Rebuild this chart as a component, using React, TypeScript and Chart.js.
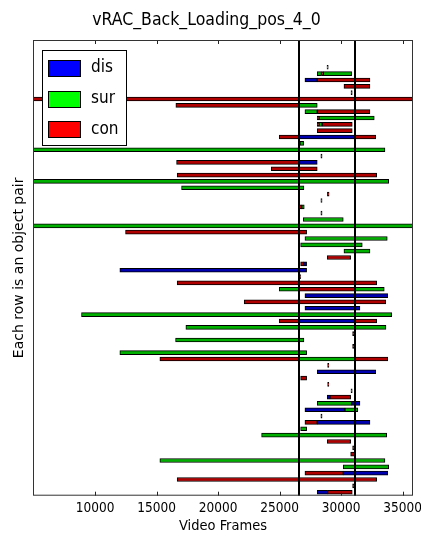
import React, { useEffect, useRef } from "react";
import { Chart, registerables } from "chart.js";

Chart.register(...registerables);

const chartTitle = "vRAC_Back_Loading_pos_4_0";
const xLabel = "Video Frames";
const yLabel = "Each row is an object pair";
const xTicks = [10000, 15000, 20000, 25000, 30000, 35000];
const xMin = 4950;
const xMax = 35840;
const yMin = -4.3;
const yMax = 67.55;
const vLines = [26600, 31130];
const seriesNames = ["dis", "sur", "con"];
const seriesColors = ["#0000ff", "#00ff00", "#ff0000"];
const barColors = ["#0000b0", "#00b000", "#b00000"];

// [row, startFrame, endFrame]
const disSegs: [number, number, number][] = [
  [2, 27055, 28055],
  [11, 26591, 31122],
  [15, 26591, 28055],
  [31, 26950, 27193],
  [32, 12009, 27193],
  [36, 27055, 33780],
  [38, 27055, 31528],
  [40, 26591, 31122],
  [48, 28055, 32804],
  [52, 28868, 29088],
  [53, 30852, 31528],
  [54, 27055, 30308],
  [56, 28055, 32341],
  [64, 30170, 33780],
  [67, 28055, 28900],
];

const surSegs: [number, number, number][] = [
  [0, 28850, 28950],
  [1, 28055, 28400],
  [1, 28550, 30852],
  [6, 26591, 28055],
  [7, 27055, 28055],
  [8, 28193, 32690],
  [9, 28200, 28450],
  [12, 26650, 26950],
  [13, 4950, 33560],
  [18, 4950, 33861],
  [19, 17027, 26973],
  [22, 26800, 27000],
  [24, 26916, 30170],
  [25, 4950, 35840],
  [27, 27055, 33747],
  [28, 26705, 31715],
  [29, 30227, 32341],
  [35, 24965, 26591],
  [35, 31122, 33503],
  [39, 8894, 34105],
  [41, 17377, 33642],
  [43, 16539, 26973],
  [45, 12009, 27193],
  [46, 26591, 31122],
  [53, 28055, 30852],
  [54, 30308, 31341],
  [57, 26705, 27193],
  [58, 23533, 33698],
  [62, 15262, 33560],
  [63, 30170, 33861],
];

const conSegs: [number, number, number][] = [
  [1, 28400, 28550],
  [2, 28055, 32341],
  [3, 30227, 32341],
  [4, 30800, 30900],
  [5, 4950, 35840],
  [6, 16563, 26591],
  [7, 28055, 32341],
  [8, 28055, 28193],
  [9, 28055, 28200],
  [9, 28450, 30901],
  [10, 28055, 30901],
  [11, 24965, 26591],
  [11, 31122, 32804],
  [14, 28350, 28450],
  [15, 16620, 26591],
  [16, 24314, 28055],
  [17, 16669, 32885],
  [20, 28880, 29020],
  [21, 28350, 28450],
  [22, 26600, 26800],
  [23, 28350, 28450],
  [26, 12472, 27193],
  [30, 28868, 30771],
  [31, 26705, 26950],
  [33, 26600, 26700],
  [34, 16669, 32885],
  [35, 26591, 31122],
  [37, 22118, 33617],
  [40, 24965, 26591],
  [40, 31122, 32885],
  [42, 30930, 31030],
  [44, 30930, 31030],
  [46, 15262, 26591],
  [46, 31122, 33780],
  [47, 28900, 29000],
  [49, 26705, 27193],
  [50, 28900, 29000],
  [51, 30800, 30900],
  [52, 29088, 30771],
  [55, 28350, 28450],
  [56, 27055, 28055],
  [59, 28868, 30771],
  [60, 30930, 31030],
  [61, 30771, 31122],
  [64, 27055, 30170],
  [65, 16669, 32885],
  [66, 30930, 31030],
  [67, 28900, 30901],
];

const allSegs = [disSegs, surSegs, conSegs];

const FONT = "'DejaVu Sans Condensed', 'DejaVu Sans', sans-serif";

const decorPlugin = {
  id: "decor",
  afterDatasetsDraw(chart: any) {
    const { ctx, chartArea: a, scales } = chart;
    const x = scales.x;
    ctx.save();
    ctx.strokeStyle = "#000";
    ctx.lineWidth = 2;
    vLines.forEach((v) => {
      const px = Math.round(x.getPixelForValue(v));
      ctx.beginPath();
      ctx.moveTo(px, a.top);
      ctx.lineTo(px, a.bottom);
      ctx.stroke();
    });
    ctx.lineWidth = 1;
    ctx.strokeStyle = "#222";
    xTicks.forEach((v) => {
      const px = Math.round(x.getPixelForValue(v)) + 0.5;
      ctx.beginPath();
      ctx.moveTo(px, a.bottom);
      ctx.lineTo(px, a.bottom - 4);
      ctx.moveTo(px, a.top);
      ctx.lineTo(px, a.top + 4);
      ctx.stroke();
    });
    ctx.strokeStyle = "#333";
    ctx.strokeRect(a.left + 0.5, a.top + 0.5, a.width - 1, a.height - 1);
    const bx = a.left + 9;
    const by = a.top + 10;
    ctx.fillStyle = "#fff";
    ctx.fillRect(bx, by, 84, 95);
    ctx.strokeStyle = "#000";
    ctx.strokeRect(bx + 0.5, by + 0.5, 84, 95);
    seriesNames.forEach((name, i) => {
      const cy = a.top + 27.7 + i * 30.8;
      ctx.fillStyle = seriesColors[i];
      ctx.fillRect(a.left + 15, Math.round(cy - 8), 32, 16);
      ctx.strokeStyle = "#000";
      ctx.strokeRect(a.left + 15.5, Math.round(cy - 8) + 0.5, 32, 16);
      ctx.fillStyle = "#000";
      ctx.font = `17px ${FONT}`;
      ctx.textBaseline = "middle";
      ctx.textAlign = "left";
      ctx.fillText(name, a.left + 58, cy);
    });
    ctx.restore();
  },
};

export default function App() {
  const ref = useRef<HTMLCanvasElement | null>(null);
  useEffect(() => {
    if (!ref.current) return;
    const datasets = seriesNames.map((name, i) => ({
      label: name,
      data: allSegs[i].map(([row, s, e]) => ({ x: [s, e], y: row })),
      backgroundColor: barColors[i],
      borderColor: "#000",
      borderWidth: 1,
      borderSkipped: false as any,
      barThickness: 4,
      grouped: false,
    }));
    const chart = new Chart(ref.current, {
      type: "bar",
      data: { datasets } as any,
      plugins: [decorPlugin],
      options: {
        indexAxis: "y",
        animation: false,
        responsive: false,
        layout: { padding: { right: 8, left: 0, top: 0, bottom: 0 } },
        plugins: {
          legend: { display: false },
          tooltip: { enabled: false },
          title: {
            display: true,
            text: chartTitle,
            color: "#000",
            font: { family: FONT, size: 17.5, weight: "normal" },
            padding: { top: 10, bottom: 9 },
          },
        },
        scales: {
          x: {
            type: "linear",
            min: xMin,
            max: xMax,
            offset: false,
            grid: { display: false, drawTicks: false },
            border: { display: false },
            afterBuildTicks: (s: any) => {
              s.ticks = xTicks.map((v) => ({ value: v }));
            },
            afterFit: (s: any) => {
              s.height = 40.3;
              s.paddingLeft = 0;
              s.paddingRight = 0;
            },
            ticks: {
              color: "#000",
              padding: 5,
              font: { family: FONT, size: 13.5 },
              callback: (v: any) => String(v),
              maxRotation: 0,
              autoSkip: false,
            },
            title: {
              display: true,
              text: xLabel,
              color: "#000",
              font: { family: FONT, size: 14.5 },
              padding: { top: 0, bottom: 1 },
            },
          },
          y: {
            type: "linear",
            reverse: true,
            min: yMin,
            max: yMax,
            offset: false,
            grid: { display: false },
            border: { display: false },
            ticks: { display: false },
            afterFit: (s: any) => {
              s.width = 33;
              s.paddingTop = 0;
              s.paddingBottom = 0;
            },
            title: {
              display: true,
              text: yLabel,
              color: "#000",
              font: { family: "'DejaVu Sans', sans-serif", size: 14 },
              padding: { top: 11, bottom: 0 },
            },
          },
        },
      } as any,
    });
    return () => chart.destroy();
  }, []);
  return (
    <div style={{ position: "absolute", left: 0, top: 0, width: 421, height: 536, background: "#fff" }}>
      <canvas ref={ref} width={421} height={536} style={{ display: "block", width: 421, height: 536 }} />
    </div>
  );
}
